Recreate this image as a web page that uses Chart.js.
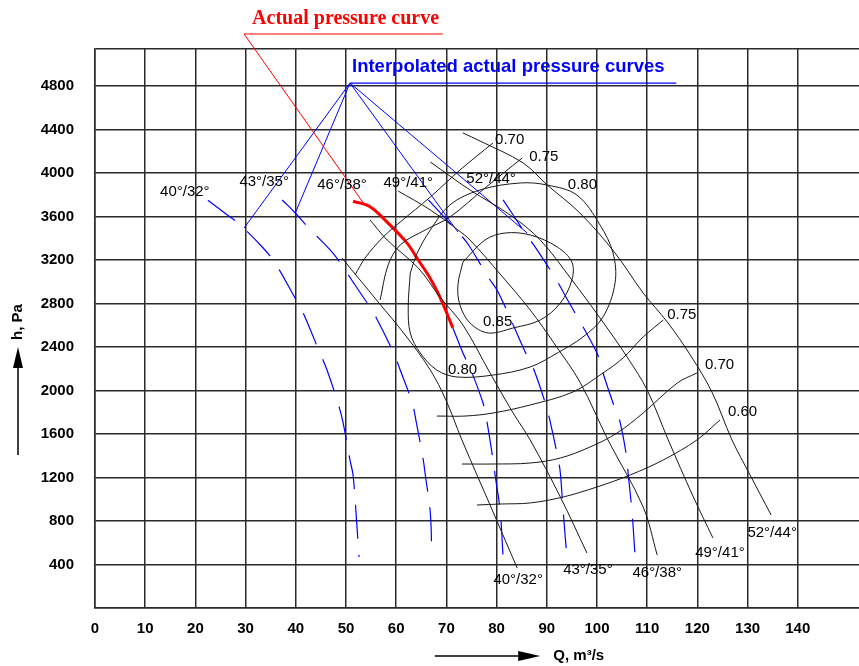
<!DOCTYPE html>
<html><head><meta charset="utf-8">
<script src="https://cdn.jsdelivr.net/npm/chart.js@4/dist/chart.umd.min.js"></script>
<style>html,body{margin:0;padding:0;background:#fff}canvas{display:block}</style>
</head><body>
<canvas id="c" width="859" height="666"></canvas>
<script>
// ---------- axes ----------
const X_TICKS = [0,10,20,30,40,50,60,70,80,90,100,110,120,130,140];
const Y_TICKS = [400,800,1200,1600,2000,2400,2800,3200,3600,4000,4400,4800];
const X_MAX = 152.2;
const Y_MAX = 5140;
const X_TITLE = 'Q, m³/s';
const Y_TITLE = 'h, Pa';

// ---------- fan characteristic curves (black) ----------
const FAN_NAMES = ['40°/32°','43°/35°','46°/38°','49°/41°','52°/44°'];
const FAN_40_32 = [[49.2,3218],[56.4,2814],[61.8,2510],[66.8,2188],[69.9,1913],[73.1,1545],[79.3,883],[84.1,368]];
const FAN_43_35 = [[54.8,3568],[58.2,3384],[64.4,3126],[68.7,2860],[73.3,2602],[78.7,2161],[83.3,1793],[86.7,1545],[92.7,1021],[98.0,506]];
const FAN_46_38 = [[60.4,3834],[66.8,3660],[72.3,3476],[74.7,3384],[80.7,3071],[86.7,2740],[91.7,2418],[96.6,2078],[102.2,1545],[109.2,929],[112.0,487]];
const FAN_49_41 = [[66.8,4101],[74.7,3844],[82.7,3614],[88.7,3384],[95.0,3016],[100.6,2667],[106.0,2308],[110.0,2004],[114.2,1545],[119.2,1021],[123.1,644]];
const FAN_52_44 = [[73.3,4368],[76.7,4294],[85.3,4092],[90.1,3889],[96.6,3632],[103.6,3264],[109.2,2897],[114.0,2630],[118.6,2326],[122.9,1986],[126.9,1545],[130.5,1223],[134.7,855]];
const FAN_LABEL_AT = [[84.3,257],[98.2,349],[112.0,322],[124.5,506],[134.9,690]];

// ---------- interpolated actual pressure curves (blue dashed) ----------
const INT_40_32 = [[22.5,3750],[25.9,3630],[28.5,3540],[33.5,3310],[35.9,3170],[39.5,2880],[41.2,2740],[44.8,2345],[46.2,2190],[48.4,1885],[49.4,1710],[50.8,1360],[51.4,1225],[52.0,875],[52.6,470]];
const INT_43_35 = [[37.3,3752],[39.9,3632],[42.4,3503],[47.4,3264],[49.4,3135],[53.4,2860],[55.4,2722],[59.4,2354],[60.8,2188],[63.2,1885],[64.0,1710],[65.4,1361],[65.8,1223],[66.8,874],[67.1,487]];
const INT_46_38 = [[71.3,2575],[73.3,2345],[74.7,2207],[77.3,1885],[78.1,1710],[79.3,1361],[79.7,1223],[80.7,900],[81.3,470]];
const INT_49_41 = [[66.4,3752],[72.3,3457],[74.3,3347],[78.3,3044],[80.3,2906],[85.7,2354],[87.3,2207],[89.7,1885],[90.7,1710],[92.3,1361],[92.7,1241],[93.3,874],[94.0,469]];
const INT_52_44 = [[81.3,3752],[85.7,3448],[87.7,3319],[91.7,3034],[93.6,2878],[100.0,2345],[101.0,2188],[103.2,1885],[104.6,1710],[106.0,1361],[106.2,1241],[107.0,874],[107.6,469]];
const INT_LABEL_AT = [[17.9,3825],[33.7,3917],[49.2,3889],[62.4,3908],[78.9,3945]];

// ---------- actual pressure curve (red) ----------
const ACTUAL = [[51.4,3740],[54.8,3690],[58.8,3520],[62.1,3360],[64.4,3200],[66.8,3030],[68.7,2860],[71.3,2575]];

// ---------- efficiency contours ----------
const EFF_085 = [[73.3,3181],[72.3,2970],[72.7,2786],[74.7,2621],[78.3,2529],[83.3,2575],[88.7,2648],[92.7,2804],[95.0,3016],[95.0,3181],[92.1,3319],[86.7,3430],[81.7,3448],[77.7,3384],[73.3,3181]];
const EFF_080 = [[62.8,3080],[62.4,2768],[62.8,2529],[64.8,2345],[68.1,2188],[72.1,2124],[79.3,2142],[86.7,2216],[92.1,2345],[97.2,2492],[101.2,2676],[103.6,2988],[103.2,3264],[100.6,3522],[96.0,3797],[90.1,3889],[84.7,3908],[76.7,3844],[70.7,3706],[66.8,3476],[64.2,3264],[62.8,3080]];
const EFF_075_UP = [[56.8,2832],[58.4,3154],[60.8,3338],[65.8,3476],[70.7,3595],[77.7,3862],[85.1,4138]];
const EFF_075_LOW = [[68.1,1765],[73.7,1765],[79.3,1793],[86.7,1867],[95.2,1986],[101.2,2161],[105.2,2299],[109.2,2492],[113.2,2648]];
const EFF_070_UP = [[51.8,3062],[53.8,3218],[57.4,3411],[60.8,3549],[66.8,3779],[72.7,4027],[79.3,4276]];
const EFF_070_LOW = [[73.1,1324],[79.3,1324],[86.7,1333],[92.7,1379],[98.6,1480],[104.0,1609],[109.2,1793],[116.0,2069],[119.9,2161]];
const EFF_060 = [[76.1,947],[80.7,956],[86.7,966],[93.3,1021],[100.0,1113],[106.6,1223],[113.2,1361],[119.9,1545],[124.5,1729]];
const EFF_LABELS = ['0.70','0.75','0.80','0.85','0.80','0.75','0.70','0.60'];
const EFF_LABEL_AT = [[79.7,4303],[86.5,4147],[94.2,3889],[77.3,2630],[70.3,2188],[114.0,2694],[121.5,2234],[126.1,1802]];

// ---------- annotations ----------
const ACTUAL_TITLE = 'Actual pressure curve';
const ACTUAL_TITLE_AT = [31.3,5416];
const ACTUAL_UNDERLINE = [[29.7,5278],[69.3,5278]];
const ACTUAL_LEADER = [[29.7,5278],[53.6,3715]];
const INTERP_TITLE = 'Interpolated actual pressure curves';
const INTERP_TITLE_AT = [51.2,4975];
const INTERP_UNDERLINE = [[50.8,4827],[115.8,4827]];
const INTERP_APEX = [50.8,4827];
const INTERP_TARGETS = [[29.7,3494],[39.9,3632],[72.3,3457],[86.1,3448]];

// axis-title arrows (data units along their axis)
const Y_ARROW = {from:1407, base:2207, tip:2400, textAt:2630};
const X_ARROW = {from:67.7, base:84.3, tip:88.7, textAt:91.3};

const pts = a => a.map(([x,y]) => ({x, y}));
const line = (data, color, width, extra={}) => Object.assign({
  data: pts(data), showLine:true, borderColor:color, backgroundColor:color,
  borderWidth:width, pointRadius:0, pointHoverRadius:0, fill:false, tension:0.35
}, extra);

const datasets = [];
[EFF_085, EFF_080, EFF_075_UP, EFF_075_LOW, EFF_070_UP, EFF_070_LOW, EFF_060]
  .forEach(d => datasets.push(line(d, '#1a1a1a', 1)));
[FAN_40_32, FAN_43_35, FAN_46_38, FAN_49_41, FAN_52_44]
  .forEach(d => datasets.push(line(d, '#1a1a1a', 1)));
[INT_40_32, INT_43_35, INT_46_38, INT_49_41, INT_52_44]
  .forEach(d => datasets.push(line(d, '#0000ff', 1.2, {borderDash:[34,16]})));
datasets.push(line(ACTUAL, '#ff0000', 3));
datasets.push(line(ACTUAL_UNDERLINE, '#ff0000', 1, {tension:0, clip:false}));
datasets.push(line(ACTUAL_LEADER, '#ff0000', 1, {tension:0, clip:false}));
datasets.push(line(INTERP_UNDERLINE, '#0000ff', 1.2, {tension:0, clip:false}));
INTERP_TARGETS.forEach(t => datasets.push(line([INTERP_APEX, t], '#0000ff', 1, {tension:0, clip:false})));

const FONT = '"Liberation Sans", Arial, sans-serif';

const textPlugin = {
  id: 'texts',
  afterDatasetsDraw(chart) {
    const {ctx, chartArea, scales:{x, y}} = chart;
    const put = (txt, xv, yv, font, color, align) => {
      ctx.font = font; ctx.fillStyle = color; ctx.textAlign = align; ctx.textBaseline = 'middle';
      ctx.fillText(txt, x.getPixelForValue(xv), y.getPixelForValue(yv));
    };
    ctx.save();
    FAN_NAMES.forEach((n,i) => {
      put(n, INT_LABEL_AT[i][0], INT_LABEL_AT[i][1], '15px ' + FONT, '#000', 'center');
      put(n, FAN_LABEL_AT[i][0], FAN_LABEL_AT[i][1], '15px ' + FONT, '#000', 'center');
    });
    EFF_LABELS.forEach((n,i) => put(n, EFF_LABEL_AT[i][0], EFF_LABEL_AT[i][1], '15px ' + FONT, '#000', 'left'));
    put(ACTUAL_TITLE, ACTUAL_TITLE_AT[0], ACTUAL_TITLE_AT[1], 'bold 20px "Liberation Serif", "Times New Roman", serif', '#ff0000', 'left');
    put(INTERP_TITLE, INTERP_TITLE_AT[0], INTERP_TITLE_AT[1], 'bold 18.5px ' + FONT, '#0000ff', 'left');

    // y-axis title with arrow
    const ax = chartArea.left - 77;
    ctx.strokeStyle = '#000'; ctx.fillStyle = '#000'; ctx.lineWidth = 1.5;
    ctx.beginPath(); ctx.moveTo(ax, y.getPixelForValue(Y_ARROW.from)); ctx.lineTo(ax, y.getPixelForValue(Y_ARROW.base)); ctx.stroke();
    ctx.beginPath();
    ctx.moveTo(ax, y.getPixelForValue(Y_ARROW.tip));
    ctx.lineTo(ax - 5, y.getPixelForValue(Y_ARROW.base));
    ctx.lineTo(ax + 5, y.getPixelForValue(Y_ARROW.base));
    ctx.closePath(); ctx.fill();
    ctx.save();
    ctx.translate(ax, y.getPixelForValue(Y_ARROW.textAt));
    ctx.rotate(-Math.PI/2);
    ctx.font = 'bold 15px ' + FONT; ctx.textAlign = 'center'; ctx.textBaseline = 'middle';
    ctx.fillText(Y_TITLE, 0, 0);
    ctx.restore();

    // x-axis title with arrow
    const ay = chartArea.bottom + 48;
    ctx.beginPath(); ctx.moveTo(x.getPixelForValue(X_ARROW.from), ay); ctx.lineTo(x.getPixelForValue(X_ARROW.base), ay); ctx.stroke();
    ctx.beginPath();
    ctx.moveTo(x.getPixelForValue(X_ARROW.tip), ay);
    ctx.lineTo(x.getPixelForValue(X_ARROW.base), ay - 5);
    ctx.lineTo(x.getPixelForValue(X_ARROW.base), ay + 5);
    ctx.closePath(); ctx.fill();
    ctx.font = 'bold 15px ' + FONT; ctx.textAlign = 'left'; ctx.textBaseline = 'middle';
    ctx.fillText(X_TITLE, x.getPixelForValue(X_ARROW.textAt), ay);
    ctx.restore();
  }
};

const bgPlugin = {
  id: 'bg',
  beforeDraw(chart) { const c = chart.ctx; c.save(); c.fillStyle = '#fff'; c.fillRect(0,0,chart.width,chart.height); c.restore(); }
};

const gridStyle = {color:'#2a2a2a', lineWidth:1.5, drawTicks:false};
new Chart(document.getElementById('c'), {
  type: 'scatter',
  data: { datasets },
  options: {
    responsive: false, animation: false, events: [],
    layout: { padding: {top:49, left:0, right:0, bottom:0} },
    plugins: { legend:{display:false}, tooltip:{enabled:false} },
    scales: {
      x: {
        type:'linear', min:0, max:X_MAX,
        afterBuildTicks: s => { s.ticks = X_TICKS.map(v => ({value:v})); },
        afterFit: s => { s.height = 58; },
        grid: gridStyle, border: {color:'#2a2a2a', width:1.5},
        ticks: {color:'#000', font:{family:FONT, size:15, weight:'bold'}, padding:12, maxRotation:0, autoSkip:false,
                callback: v => String(v)}
      },
      y: {
        type:'linear', min:0, max:Y_MAX,
        afterBuildTicks: s => { s.ticks = [0, ...Y_TICKS, Y_MAX].map(v => ({value:v})); },
        afterFit: s => { s.width = 95; },
        grid: gridStyle, border: {color:'#2a2a2a', width:1.5},
        ticks: {color:'#000', font:{family:FONT, size:15, weight:'bold'}, padding:21, autoSkip:false,
                callback: v => Y_TICKS.includes(v) ? String(v) : ''}
      }
    }
  },
  plugins: [bgPlugin, textPlugin]
});
</script>
</body></html>
